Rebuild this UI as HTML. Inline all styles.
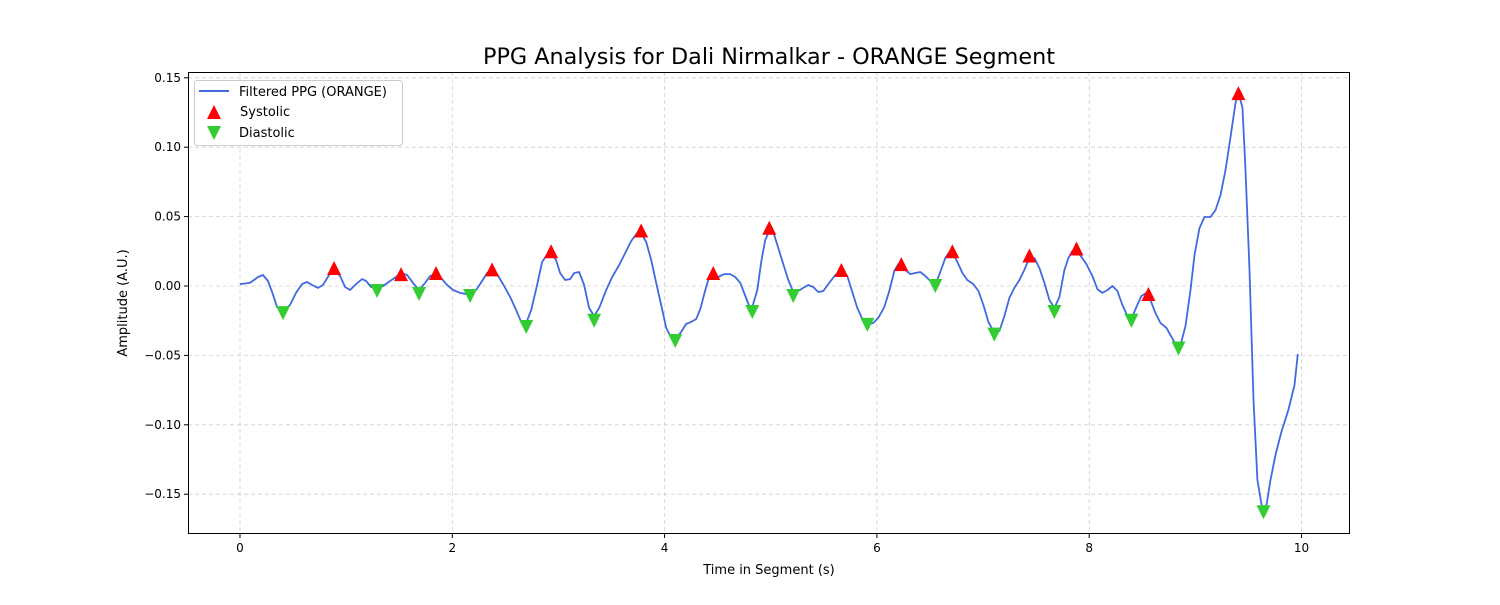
<!DOCTYPE html>
<html><head><meta charset="utf-8"><style>
body{margin:0;background:#fff;}
svg text{font-family:"DejaVu Sans","Liberation Sans",sans-serif;}
</style></head><body>
<svg id="chart" width="1500" height="600" xmlns="http://www.w3.org/2000/svg">
<rect width="1500" height="600" fill="#fff"/>
<text x="769" y="64" text-anchor="middle" font-size="22.3" fill="#000">PPG Analysis for Dali Nirmalkar - ORANGE Segment</text>
<g id="grid"></g>
<g id="axes"></g>
<g id="plot"></g>
<text x="769" y="574" text-anchor="middle" font-size="13">Time in Segment (s)</text>
<text transform="translate(127,303) rotate(-90)" text-anchor="middle" font-size="13">Amplitude (A.U.)</text>
<g>
<rect x="194.5" y="80.5" width="208" height="65" rx="3" fill="#fff" fill-opacity="0.8" stroke="#ccc"/>
<line x1="199" y1="91" x2="229" y2="91" stroke="#4169e1" stroke-width="2"/>
<text x="239" y="96" font-size="13">Filtered PPG (ORANGE)</text>
<polygon points="214,105 207,119 221,119" fill="red"/>
<text x="240" y="116" font-size="13">Systolic</text>
<polygon points="207,126 221,126 214,140" fill="#32cd32"/>
<text x="239" y="137" font-size="13">Diastolic</text>
</g>
</svg>
<script>
const lineT=[0,0.094,0.170,0.217,0.264,0.302,0.349,0.405,0.471,0.528,0.584,0.631,0.679,0.735,0.782,0.839,0.886,0.943,0.990,1.037,1.093,1.150,1.188,1.235,1.291,1.348,1.414,1.470,1.517,1.574,1.630,1.687,1.744,1.791,1.847,1.894,1.951,2.008,2.074,2.130,2.168,2.224,2.281,2.328,2.375,2.432,2.488,2.545,2.601,2.649,2.696,2.743,2.799,2.846,2.903,2.931,2.978,3.016,3.063,3.110,3.148,3.195,3.242,3.289,3.336,3.384,3.450,3.506,3.572,3.629,3.685,3.742,3.779,3.827,3.874,3.921,3.968,4.015,4.062,4.100,4.156,4.203,4.251,4.298,4.336,4.383,4.420,4.458,4.505,4.562,4.618,4.665,4.713,4.760,4.797,4.826,4.873,4.910,4.948,4.986,5.024,5.071,5.118,5.165,5.212,5.259,5.306,5.353,5.400,5.448,5.495,5.551,5.608,5.665,5.721,5.768,5.815,5.862,5.910,5.966,6.013,6.070,6.117,6.164,6.202,6.230,6.268,6.315,6.362,6.409,6.456,6.503,6.550,6.597,6.644,6.682,6.711,6.758,6.805,6.852,6.909,6.956,7.003,7.050,7.106,7.154,7.201,7.248,7.295,7.342,7.389,7.437,7.484,7.531,7.578,7.625,7.672,7.719,7.766,7.804,7.842,7.880,7.927,7.974,8.030,8.077,8.124,8.172,8.219,8.266,8.313,8.360,8.398,8.445,8.492,8.539,8.577,8.624,8.671,8.728,8.775,8.822,8.860,8.907,8.954,8.992,9.039,9.086,9.143,9.190,9.237,9.284,9.331,9.378,9.406,9.444,9.472,9.510,9.548,9.585,9.632,9.670,9.708,9.755,9.811,9.877,9.934,9.965];
const lineV=[0.0014,0.0022,0.0065,0.0079,0.0036,-0.0043,-0.0151,-0.0180,-0.0137,-0.0050,0.0014,0.0029,0.0007,-0.0014,0.0007,0.0079,0.0115,0.0072,-0.0007,-0.0029,0.0014,0.0050,0.0036,-0.0007,-0.0022,0,0.0036,0.0065,0.0094,0.0079,0.0022,-0.0029,0.0022,0.0072,0.0086,0.0058,0.0007,-0.0029,-0.0050,-0.0058,-0.0058,-0.0029,0.0036,0.0094,0.0108,0.0072,0,-0.0079,-0.0173,-0.0259,-0.0266,-0.0173,0.0007,0.0173,0.0238,0.0230,0.0187,0.0094,0.0043,0.0050,0.0094,0.0101,0.0007,-0.0158,-0.0216,-0.0158,-0.0029,0.0065,0.0151,0.0238,0.0324,0.0382,0.0382,0.0317,0.0187,0.0022,-0.0137,-0.0302,-0.0374,-0.0382,-0.0331,-0.0274,-0.0259,-0.0238,-0.0166,-0.0029,0.0065,0.0079,0.0065,0.0086,0.0086,0.0065,0.0022,-0.0072,-0.0144,-0.0151,-0.0029,0.0173,0.0331,0.0396,0.0389,0.0274,0.0158,0.0043,-0.0043,-0.0036,-0.0014,0.0007,-0.0007,-0.0043,-0.0036,0.0022,0.0079,0.0108,0.0072,-0.0043,-0.0158,-0.0238,-0.0281,-0.0266,-0.0230,-0.0151,-0.0036,0.0108,0.0158,0.0158,0.0115,0.0086,0.0094,0.0101,0.0072,0.0036,0.0007,0.0101,0.0202,0.0245,0.0238,0.0173,0.0094,0.0043,0.0014,-0.0036,-0.0137,-0.0259,-0.0338,-0.0324,-0.0216,-0.0086,-0.0014,0.0043,0.0115,0.0202,0.0202,0.0130,0.0022,-0.0101,-0.0158,-0.0079,0.0115,0.0202,0.0252,0.0252,0.0209,0.0158,0.0072,-0.0022,-0.0050,-0.0029,0,-0.0036,-0.0137,-0.0216,-0.0238,-0.0151,-0.0072,-0.0050,-0.0101,-0.0194,-0.0266,-0.0302,-0.0367,-0.0432,-0.0425,-0.0288,-0.0029,0.0223,0.0418,0.0497,0.0497,0.0547,0.0655,0.0835,0.1073,0.1318,0.1397,0.1282,0.0835,0.0115,-0.0821,-0.1397,-0.1613,-0.1577,-0.1397,-0.1217,-0.1051,-0.0893,-0.0713,-0.0490];
const sysT=[0.886,1.517,1.847,2.375,2.931,3.779,4.458,4.986,5.665,6.230,6.711,7.437,7.880,8.558,9.406];
const sysV=[0.013,0.0086,0.0094,0.012,0.025,0.040,0.0094,0.042,0.0115,0.0158,0.025,0.022,0.027,-0.0058,0.139];
const diaT=[0.405,1.291,1.687,2.168,2.696,3.336,4.100,4.826,5.212,5.910,6.550,7.106,7.672,8.398,8.841,9.642];
const diaV=[-0.0195,-0.0036,-0.0058,-0.0072,-0.0295,-0.025,-0.0396,-0.0187,-0.0072,-0.028,0.0,-0.035,-0.0187,-0.025,-0.045,-0.163];
const xTicks=[0,2,4,6,8,10];
const yTicks=[0.15,0.10,0.05,0.00,-0.05,-0.10,-0.15];
const yTickLabels=["0.15","0.10","0.05","0.00","\u22120.05","\u22120.10","\u22120.15"];

const L=188,R=1350,T=72,B=534;
const xs=t=>240+t*106.15;
const ys=v=>286-v*1388;
const NS="http://www.w3.org/2000/svg";
function mk(tag,attrs,parent){const e=document.createElementNS(NS,tag);for(const k in attrs)e.setAttribute(k,attrs[k]);parent.appendChild(e);return e;}
const grid=document.getElementById('grid'),axes=document.getElementById('axes'),plot=document.getElementById('plot');
xTicks.forEach(t=>{
  const x=xs(t);
  const g=mk('line',{x1:x,x2:x,y1:T,y2:B,stroke:'#d0d0d0','stroke-dasharray':'4,3','stroke-width':0.8},grid);
  
  
  const tk=mk('line',{x1:x,x2:x,y1:B,y2:B+4,stroke:'#000'},axes);
  
  
  const lb=mk('text',{x:x,y:B+18,'text-anchor':'middle','font-size':12},axes);
  lb.textContent=String(t);
  
  
});
yTicks.forEach((v,i)=>{
  const y=ys(v);
  const g=mk('line',{x1:L,x2:R,y1:y,y2:y,stroke:'#d0d0d0','stroke-dasharray':'4,3','stroke-width':0.8},grid);
  
  
  const tk=mk('line',{x1:L-4,x2:L,y1:y,y2:y,stroke:'#000'},axes);
  
  
  const lb=mk('text',{x:L-7,y:y+4,'text-anchor':'end','font-size':12},axes);
  lb.textContent=yTickLabels[i];
  
  
});
const frame=mk('rect',{x:L+0.5,y:T+0.5,width:R-L-1,height:B-T-1,fill:'none',stroke:'#000','stroke-width':1},axes);


const pts=lineT.map((t,i)=>xs(t).toFixed(1)+','+ys(lineV[i]).toFixed(1)).join(' ');
const pl=mk('polyline',{points:pts,fill:'none',stroke:'#4169e1','stroke-width':1.8,'stroke-linejoin':'round'},plot);


sysT.forEach((t,i)=>{
  const x=xs(t),y=ys(sysV[i]);
  const p=mk('polygon',{points:`${x},${y-7} ${x-7},${y+7} ${x+7},${y+7}`,fill:'red'},plot);
  
  
});
diaT.forEach((t,i)=>{
  const x=xs(t),y=ys(diaV[i]);
  const p=mk('polygon',{points:`${x-7},${y-7} ${x+7},${y-7} ${x},${y+7}`,fill:'#32cd32'},plot);
  
  
});
</script>
</body></html>
